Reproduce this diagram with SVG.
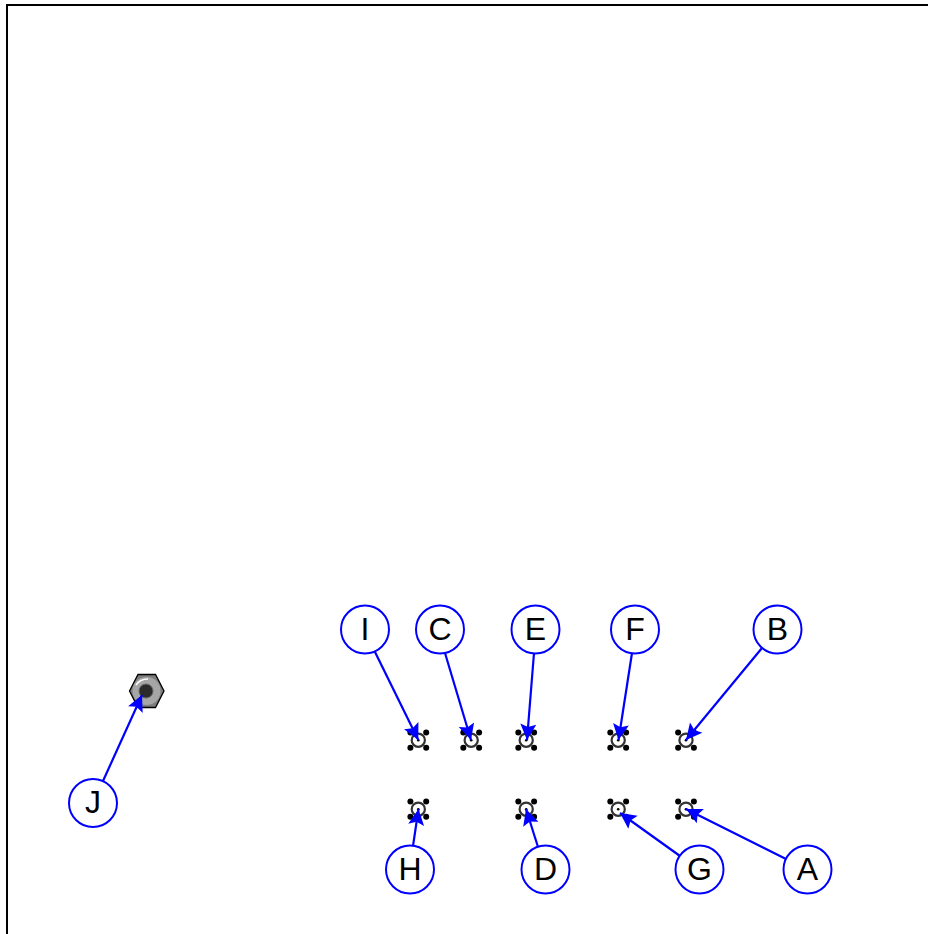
<svg xmlns="http://www.w3.org/2000/svg" width="928" height="934" viewBox="0 0 928 934">
<style>
.bg{fill:#fff}
.frame{fill:none;stroke:#000;stroke-width:2}
.lbl circle{fill:#fff;stroke:#0000ff;stroke-width:2}
.lbl text{font-family:"Liberation Sans",Arial,sans-serif;font-size:32px;fill:#000;text-anchor:middle}
.conn{stroke:#0000ff;stroke-width:2.2;fill:none;marker-end:url(#arr)}
.ring{fill:#fff;stroke:#333;stroke-width:2.2}
.dot{fill:#000}
</style>
<defs>
<marker id="arr" markerUnits="userSpaceOnUse" markerWidth="20" markerHeight="18" refX="16" refY="8" orient="auto" overflow="visible">
<path d="M0,0 L16,8 L0,16 L3,8 Z" fill="#0000ff"/>
</marker>
<g id="mh">
<circle class="ring" r="6.6"/>
<circle class="dot" r="1.3"/>
<circle class="dot" cx="-7.9" cy="-7.6" r="3"/>
<circle class="dot" cx="7.9" cy="-7.6" r="3"/>
<circle class="dot" cx="-7.9" cy="7.6" r="3"/>
<circle class="dot" cx="7.9" cy="7.6" r="3"/>
</g>
</defs>
<rect class="bg" width="928" height="934"/>
<path class="frame" d="M7,934 V5 H928"/>
<g id="hex-bolt">
<polygon points="129.5,691 138,674.5 155.5,674.5 164,691 155.5,707.5 138,707.5" fill="#7d7d7d" stroke="#000" stroke-width="1.3"/>
<circle cx="146.5" cy="691" r="14" fill="#a6a6a6"/>
<circle cx="146" cy="691" r="7" fill="#2b2b2b" stroke="#666" stroke-width="1"/>
<path d="M136,685 Q140,679 148,679" fill="none" stroke="#fff" stroke-width="1.4"/>
</g>
<g id="t1"><use href="#mh" x="418.3" y="740.2"/></g>
<g id="t2"><use href="#mh" x="471.2" y="740.2"/></g>
<g id="t3"><use href="#mh" x="526.2" y="740.2"/></g>
<g id="t4"><use href="#mh" x="618.2" y="740.2"/></g>
<g id="t5"><use href="#mh" x="686" y="740.2"/></g>
<g id="b1"><use href="#mh" x="418.3" y="809.2"/></g>
<g id="b2"><use href="#mh" x="526.2" y="809.2"/></g>
<g id="b3"><use href="#mh" x="618.2" y="809.2"/></g>
<g id="b4"><use href="#mh" x="686" y="809.2"/></g>
<g id="connectors">
<line class="conn" x1="375" y1="652" x2="418.3" y2="740"/>
<line class="conn" x1="445" y1="653" x2="471" y2="740"/>
<line class="conn" x1="534" y1="653" x2="527" y2="740"/>
<line class="conn" x1="632" y1="653" x2="618.5" y2="740"/>
<line class="conn" x1="762" y1="648" x2="686" y2="740"/>
<line class="conn" x1="413" y1="846" x2="418.5" y2="809"/>
<line class="conn" x1="538" y1="847" x2="526" y2="809"/>
<line class="conn" x1="680" y1="856" x2="620" y2="813"/>
<line class="conn" x1="786" y1="859" x2="686" y2="809"/>
<line class="conn" x1="103" y1="781" x2="142" y2="695"/>
</g>
<g id="I" class="lbl"><circle cx="365" cy="629.5" r="24"/><text x="365" y="639.5">I</text></g>
<g id="C" class="lbl"><circle cx="440" cy="629.5" r="24"/><text x="440" y="639.5">C</text></g>
<g id="E" class="lbl"><circle cx="535.5" cy="629.5" r="24"/><text x="535.5" y="639.5">E</text></g>
<g id="F" class="lbl"><circle cx="635" cy="629.5" r="24"/><text x="635" y="639.5">F</text></g>
<g id="B" class="lbl"><circle cx="777.5" cy="629.5" r="24"/><text x="777.5" y="639.5">B</text></g>
<g id="H" class="lbl"><circle cx="410" cy="869.5" r="24"/><text x="410" y="879.5">H</text></g>
<g id="D" class="lbl"><circle cx="545.5" cy="869.5" r="24"/><text x="545.5" y="879.5">D</text></g>
<g id="G" class="lbl"><circle cx="699.5" cy="869.5" r="24"/><text x="699.5" y="879.5">G</text></g>
<g id="A" class="lbl"><circle cx="807.5" cy="869.5" r="24"/><text x="807.5" y="879.5">A</text></g>
<g id="J" class="lbl"><circle cx="93" cy="803" r="24"/><text x="93" y="813">J</text></g>
</svg>
